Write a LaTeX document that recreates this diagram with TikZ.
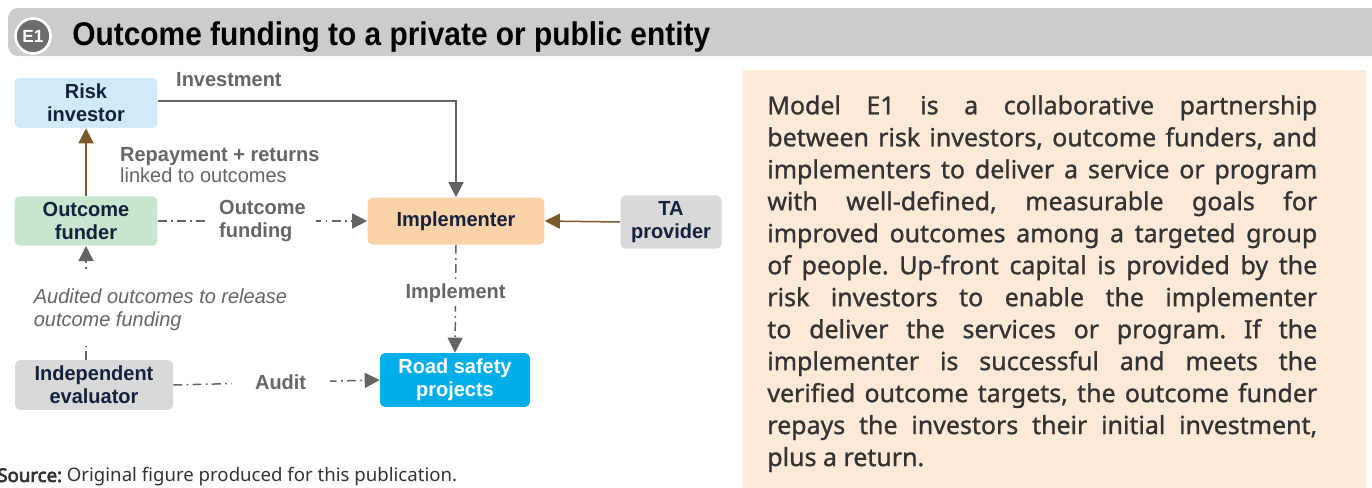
\documentclass[tikz,border=0pt]{standalone}
\usepackage{fontspec}
\setmainfont{Liberation Sans}
\newfontfamily\narrowfont[FakeStretch=0.98]{Liberation Sans}
\newfontfamily\titlefont[FakeStretch=0.91]{Liberation Sans}
\newfontfamily\bodyfont[FakeBold=1]{Noto Sans}
\newfontfamily\notefont{Noto Sans}
\newfontfamily\noteboldfont[FakeBold=3.5]{Noto Sans}
\usetikzlibrary{arrows.meta}

\definecolor{navytext}{HTML}{14213D}
\definecolor{labelgray}{HTML}{666666}
\definecolor{linegray}{HTML}{636363}
\definecolor{linkbrown}{HTML}{7B5A2A}
\definecolor{riskblue}{HTML}{CFEAF9}
\definecolor{funder}{HTML}{C6E6CF}
\definecolor{implorange}{HTML}{FAD3A9}
\definecolor{boxgray}{HTML}{D9D9D9}
\definecolor{roadcyan}{HTML}{00AEEA}
\definecolor{barsgray}{HTML}{CCCCCC}
\definecolor{peach}{HTML}{FDE9D8}

\begin{document}
\frenchspacing
\begin{tikzpicture}[
  x=0.02cm, y=-0.02cm,
  >={Triangle[length=0.3cm,width=0.3cm]},
  actor/.style={rounded corners=0.1cm, align=center, minimum height=0.94cm,
    text=navytext, font=\narrowfont\bfseries\fontsize{11.6}{13.2}\selectfont},
  flowlabel/.style={text=labelgray, align=left, fill=white,
    font=\narrowfont\bfseries\fontsize{11.6}{13.2}\selectfont},
  solidlink/.style={->, draw=linegray, line width=0.85pt},
  dashlink/.style={->, draw=linegray, line width=0.85pt,
    dash pattern=on 5pt off 2.5pt on 1pt off 2.5pt},
  brownlink/.style={->, draw=linkbrown, line width=0.85pt}
]
\useasboundingbox (0,0) rectangle (1372,487);

% header bar
\fill[barsgray, rounded corners=0.2cm] (8,8) rectangle (1400,56);
\node[circle, fill=gray!85!black, draw=white, line width=1.5pt, minimum size=0.7cm,
  inner sep=0pt, text=white, font=\narrowfont\bfseries\fontsize{10}{11}\selectfont] (badge) at (33,36) {E1};
\node[anchor=west, inner sep=0pt, font=\titlefont\bfseries\fontsize{18.7}{20}\selectfont] (title) at (72,37)
  {Outcome funding to a private or public entity};

% actors
\node[actor, fill=riskblue, minimum width=2.86cm] (risk) at (86,103) {Risk\\investor};
\node[actor, fill=funder, minimum width=2.86cm] (funderbox) at (86,221) {Outcome\\funder};
\node[actor, fill=implorange, minimum width=3.54cm] (impl) at (456,221) {Implementer};
\node[actor, fill=boxgray, minimum width=2.02cm] (ta) at (671,222) {TA\\provider};
\node[actor, fill=boxgray, minimum width=3.16cm] (evaluator) at (94,385) {Independent\\evaluator};
\node[actor, fill=roadcyan, text=white, minimum width=3.0cm, minimum height=0.9cm] (road) at (455,380) {Road safety\\projects};

% flows
\draw[solidlink] (risk.east |- 0,101) -| (impl.north);
\node[flowlabel, anchor=west, fill=none] (investlbl) at (170,80) {Investment};

\draw[brownlink] (funderbox.north) -- (risk.south);
\node[flowlabel, anchor=west, fill=none] (repaylbl) at (114,165)
  {Repayment + returns\\[-1pt]{\mdseries linked to outcomes}};

\draw[dashlink] (funderbox.east) -- (impl.west)
  node[flowlabel, midway, inner xsep=0.2cm] (fundlbl) {Outcome\\funding};

\draw[brownlink] (ta.west) -- (impl.east);

\draw[dashlink] (impl.south) -- (road.north)
  node[flowlabel, pos=0.45, inner ysep=2pt] (impllbl) {Implement};

\draw[dashlink] (evaluator.east) -- (road.west)
  node[flowlabel, pos=0.52, minimum width=1.96cm] (auditlbl) {Audit};

\draw[dashlink] (evaluator.north -| funderbox.south) -- (funderbox.south);
\node[flowlabel, anchor=west, inner ysep=0.3cm, inner xsep=2pt,
  font=\narrowfont\itshape\fontsize{11.6}{13.2}\selectfont] (auditedlbl) at (30,310)
  {Audited outcomes to release\\outcome funding};

% description panel
\fill[peach] (743,70) rectangle (1366,500);
\node[anchor=north west, inner sep=0pt, text width=11cm, align=justify, text=black!80,
  font=\bodyfont\fontsize{14.2}{18.2}\selectfont] (desc) at (767,95)
  {Model E1 is a collaborative partnership\linebreak
   between risk investors, outcome funders, and\linebreak
   implementers to deliver a service or program\linebreak
   with well-defined, measurable goals for\linebreak
   improved outcomes among a targeted group\linebreak
   of people. Up-front capital is provided by the\linebreak
   risk investors to enable the implementer\linebreak
   to deliver the services or program. If the\linebreak
   implementer is successful and meets the\linebreak
   verified outcome targets, the outcome funder\linebreak
   repays the investors their initial investment,\linebreak
   plus a return.};

% source note
\node[anchor=west, inner sep=0pt, text=black!80, font=\notefont\fontsize{10.6}{12}\selectfont] (source) at (-3,477)
  {{\noteboldfont Source:} Original figure produced for this publication.};
\end{tikzpicture}
\end{document}
